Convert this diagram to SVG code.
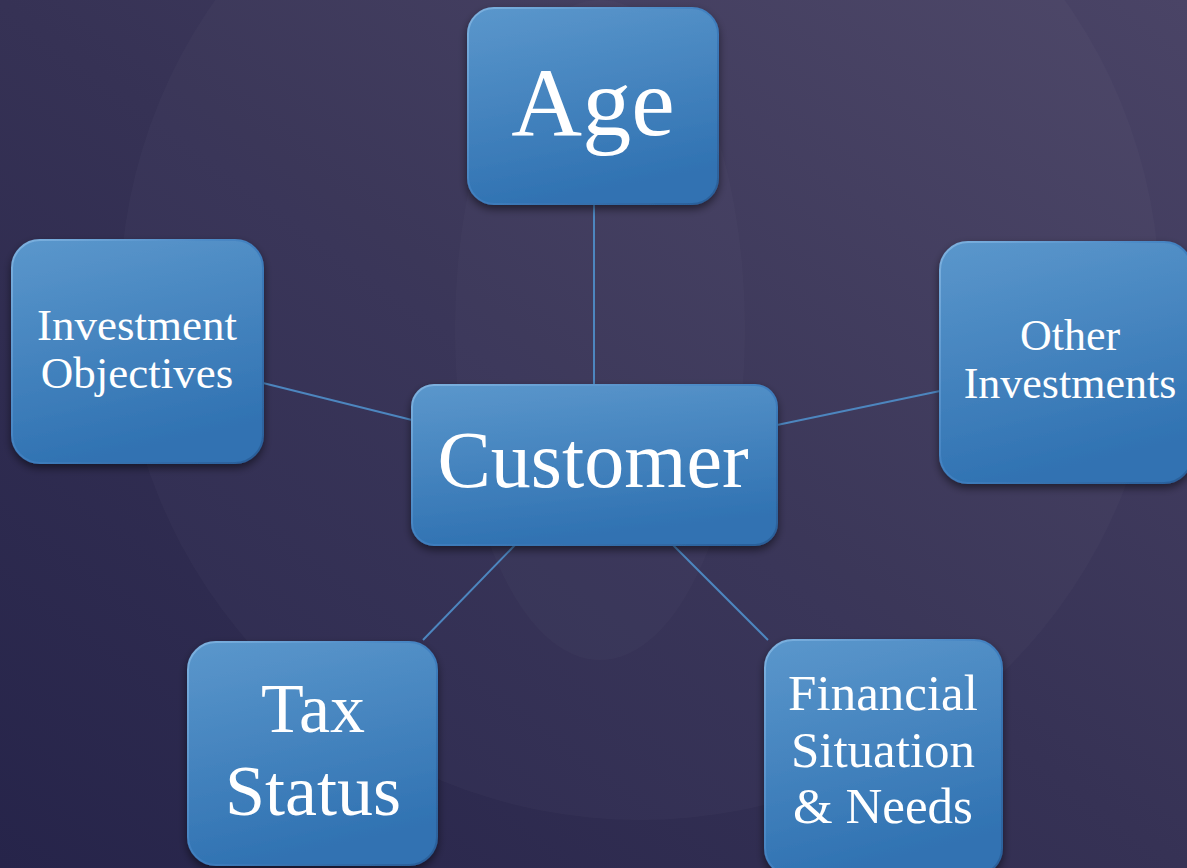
<svg xmlns="http://www.w3.org/2000/svg" width="1187" height="868" viewBox="0 0 1187 868">
  <defs>
    <linearGradient id="bg" x1="0" y1="1" x2="1" y2="0">
      <stop offset="0" stop-color="#26244a"/>
      <stop offset="0.5" stop-color="#363255"/>
      <stop offset="1" stop-color="#4a4466"/>
    </linearGradient>
    <linearGradient id="boxFill" x1="0" y1="0" x2="0.25" y2="1">
      <stop offset="0" stop-color="#5b97cc"/>
      <stop offset="1" stop-color="#3072b2"/>
    </linearGradient>
    <linearGradient id="rim" x1="0" y1="0" x2="1" y2="1">
      <stop offset="0" stop-color="#7fb3e0"/>
      <stop offset="0.5" stop-color="#3f7fbf"/>
      <stop offset="1" stop-color="#2a5e98"/>
    </linearGradient>
    <filter id="shadow" x="-10%" y="-10%" width="130%" height="130%">
      <feGaussianBlur in="SourceAlpha" stdDeviation="4"/>
      <feOffset dx="0" dy="4"/>
      <feComponentTransfer><feFuncA type="linear" slope="0.5"/></feComponentTransfer>
      <feMerge><feMergeNode/><feMergeNode in="SourceGraphic"/></feMerge>
    </filter>
  </defs>
  <style>
    .box { fill: url(#boxFill); stroke: url(#rim); stroke-width: 2; filter: url(#shadow); }
    .lbl { fill: #ffffff; font-family: "Liberation Serif", "DejaVu Serif", serif; text-anchor: middle; }
    .link { stroke: #4d86bf; stroke-width: 2; fill: none; }
  </style>

  <!-- background -->
  <rect width="1187" height="868" fill="url(#bg)"/>
  <circle cx="640" cy="300" r="520" fill="#ffffff" fill-opacity="0.022"/>
  <ellipse cx="600" cy="330" rx="145" ry="330" fill="#ffffff" fill-opacity="0.02"/>

  <!-- connectors -->
  <g id="connectors">
    <line class="link" x1="594" y1="204" x2="594" y2="385"/>
    <line class="link" x1="263" y1="383" x2="412" y2="420"/>
    <line class="link" x1="777" y1="425" x2="940" y2="391"/>
    <line class="link" x1="515" y1="545" x2="423" y2="640"/>
    <line class="link" x1="673" y1="545" x2="768" y2="640"/>
  </g>

  <g id="age">
    <rect class="box" x="468" y="8" width="250" height="196" rx="26"/>
    <text class="lbl" x="593" y="135" font-size="98">Age</text>
  </g>

  <g id="customer">
    <rect class="box" x="412" y="385" width="365" height="160" rx="22"/>
    <text class="lbl" x="593" y="487" font-size="80">Customer</text>
  </g>

  <g id="investment-objectives">
    <rect class="box" x="12" y="240" width="251" height="223" rx="28"/>
    <text class="lbl" x="137" y="340" font-size="45">Investment</text>
    <text class="lbl" x="137" y="388" font-size="45">Objectives</text>
  </g>

  <g id="other-investments">
    <rect class="box" x="940" y="242" width="252" height="241" rx="28"/>
    <text class="lbl" x="1070" y="350" font-size="44">Other</text>
    <text class="lbl" x="1070" y="398" font-size="44">Investments</text>
  </g>

  <g id="tax-status">
    <rect class="box" x="188" y="642" width="249" height="223" rx="28"/>
    <text class="lbl" x="313" y="732" font-size="70">Tax</text>
    <text class="lbl" x="313" y="815" font-size="72">Status</text>
  </g>

  <g id="financial-situation">
    <rect class="box" x="765" y="640" width="237" height="236" rx="28"/>
    <text class="lbl" x="883" y="710" font-size="51">Financial</text>
    <text class="lbl" x="883" y="767" font-size="51">Situation</text>
    <text class="lbl" x="883" y="823" font-size="51">&amp; Needs</text>
  </g>
</svg>
